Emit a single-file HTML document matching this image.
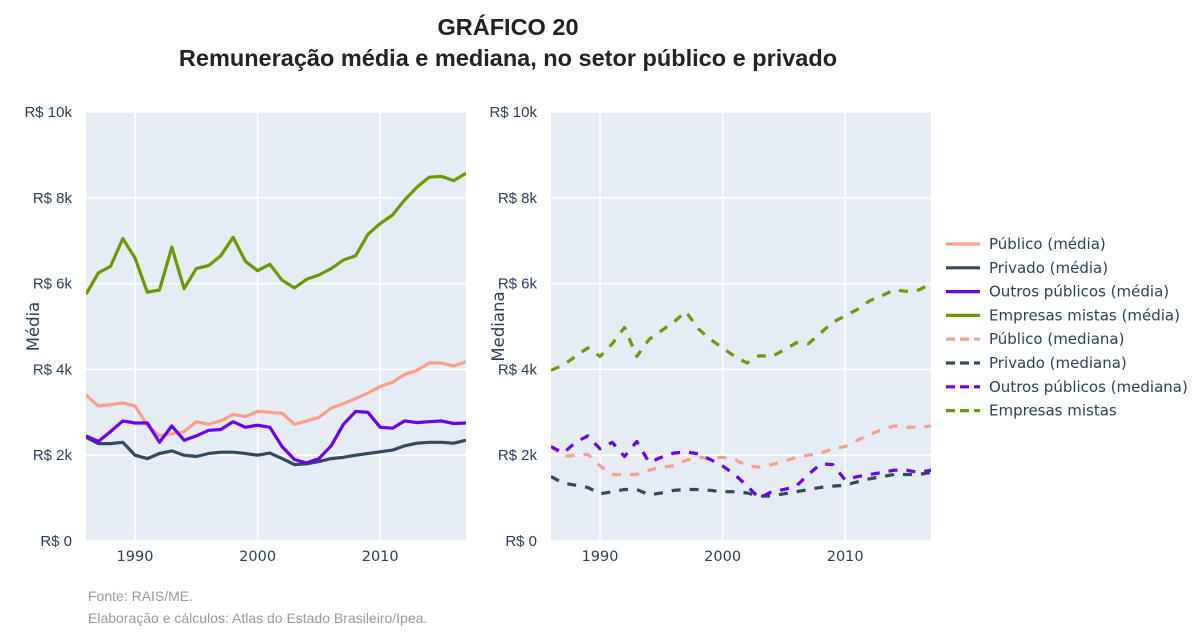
<!DOCTYPE html>
<html><head><meta charset="utf-8"><style>
body{margin:0;background:#fff;font-family:"Liberation Sans",sans-serif}
svg text{font-family:"DejaVu Sans",sans-serif}
svg text.lib{font-family:"Liberation Sans",sans-serif}
</style></head><body>
<svg id="c" width="1200" height="638" xmlns="http://www.w3.org/2000/svg">
<text class="lib" x="508" y="35" text-anchor="middle" font-size="23.5" font-weight="bold" fill="#222">GRÁFICO 20</text>
<text class="lib" x="508" y="66" text-anchor="middle" font-size="23.5" font-weight="bold" fill="#222">Remuneração média e mediana, no setor público e privado</text>
<text class="lib" x="88" y="601" font-size="14" fill="#999">Fonte: RAIS/ME.</text>
<text class="lib" x="88" y="623" font-size="14" fill="#999">Elaboração e cálculos: Atlas do Estado Brasileiro/Ipea.</text>
<g id="p1"></g><g id="p2"></g><g id="leg"></g>
</svg>
<script>
const years=[];for(let y=1986;y<=2017;y++)years.push(y);
const yTicks=[0,2000,4000,6000,8000,10000];
const yTickLabels=["R$ 0","R$ 2k","R$ 4k","R$ 6k","R$ 8k","R$ 10k"];
const xTicks=[1990,2000,2010];
const publicoMedia=[3.4,3.15,3.18,3.22,3.15,2.7,2.45,2.5,2.55,2.78,2.72,2.8,2.95,2.9,3.02,3.0,2.98,2.72,2.8,2.88,3.1,3.2,3.32,3.45,3.6,3.7,3.88,3.98,4.15,4.15,4.08,4.18];
const privadoMedia=[2.42,2.27,2.27,2.3,2.0,1.92,2.04,2.1,2.0,1.97,2.04,2.07,2.07,2.04,2.0,2.05,1.92,1.78,1.8,1.85,1.92,1.95,2.0,2.04,2.08,2.12,2.22,2.28,2.3,2.3,2.28,2.35];
const outrosMedia=[2.45,2.32,2.55,2.8,2.75,2.75,2.3,2.68,2.35,2.45,2.58,2.6,2.78,2.65,2.7,2.65,2.2,1.9,1.82,1.92,2.22,2.72,3.02,3.0,2.65,2.63,2.8,2.76,2.78,2.8,2.74,2.75];
const mistasMedia=[5.75,6.25,6.4,7.05,6.6,5.8,5.85,6.85,5.88,6.35,6.42,6.65,7.08,6.52,6.3,6.45,6.08,5.9,6.1,6.2,6.35,6.55,6.65,7.15,7.4,7.6,7.95,8.25,8.48,8.5,8.4,8.57];
const publicoMediana=[2.2,1.97,2.0,2.02,1.75,1.55,1.55,1.55,1.65,1.72,1.75,1.88,1.95,1.93,1.95,1.9,1.75,1.72,1.78,1.85,1.95,2.0,2.05,2.15,2.2,2.35,2.48,2.6,2.68,2.65,2.65,2.68];
const privadoMediana=[1.5,1.35,1.3,1.25,1.1,1.15,1.2,1.2,1.08,1.12,1.18,1.2,1.2,1.18,1.15,1.15,1.12,1.05,1.05,1.1,1.15,1.2,1.25,1.28,1.3,1.38,1.45,1.5,1.55,1.55,1.55,1.6];
const outrosMediana=[2.2,2.05,2.3,2.45,2.15,2.3,1.97,2.32,1.83,1.95,2.05,2.08,2.03,1.9,1.75,1.55,1.28,1.0,1.15,1.2,1.28,1.55,1.8,1.78,1.42,1.5,1.55,1.6,1.65,1.65,1.6,1.65];
const mistasMediana=[3.98,4.1,4.3,4.5,4.3,4.6,4.98,4.3,4.7,4.9,5.1,5.35,4.95,4.7,4.5,4.3,4.15,4.32,4.3,4.45,4.62,4.6,4.85,5.1,5.25,5.4,5.6,5.72,5.85,5.82,5.85,6.0];
const NS="http://www.w3.org/2000/svg";
function mk(t,a,p){const e=document.createElementNS(NS,t);for(const k in a)e.setAttribute(k,a[k]);p.appendChild(e);return e;}
const colors={pub:"#fba084",priv:"#34495e",out:"#6a00f4",mis:"#6b9a00"};
function panel(g,x0,title,series){
  const x1=x0+380,yTop=112,yBot=541;
  const xs=v=>x0+(v-1986)*(x1-x0)/31, ys=v=>yBot-v*(yBot-yTop)/10000;
  const bg=mk("rect",{x:x0,y:yTop,width:x1-x0,height:yBot-yTop,fill:"#e5ecf6"},g);
  
  
  yTicks.forEach((t,i)=>{
    mk("line",{x1:x0,x2:x1,y1:ys(t),y2:ys(t),stroke:"#fff","stroke-width":1.5},g);
    const tx=mk("text",{x:x0-14,y:ys(t)+5,"text-anchor":"end","font-size":15,fill:"#2a3f5f","class":"lib"},g);
    tx.textContent=yTickLabels[i];
    
    
  });
  xTicks.forEach(t=>{
    mk("line",{x1:xs(t),x2:xs(t),y1:yTop,y2:yBot,stroke:"#fff","stroke-width":1.5},g);
    const tx=mk("text",{x:xs(t),y:yBot+20,"text-anchor":"middle","font-size":14.5,fill:"#2a3f5f"},g);
    tx.textContent=t;
    
    
  });
  const yt=mk("text",{transform:`translate(${x0-47},${(yTop+yBot)/2}) rotate(-90)`,"text-anchor":"middle","font-size":16.5,fill:"#2a3f5f"},g);
  yt.textContent=title;
  
  
  const clip=mk("clipPath",{id:"cl"+x0},g);mk("rect",{x:x0,y:yTop,width:x1-x0,height:yBot-yTop},clip);
  series.forEach(s=>{
    const d=s.data.map((v,i)=>(i?"L":"M")+xs(years[i]).toFixed(1)+","+ys(v*1000).toFixed(1)).join("");
    const p=mk("path",{d,fill:"none",stroke:s.c,"stroke-width":3.2,"stroke-linejoin":"round","clip-path":`url(#cl${x0})`},g);
    if(s.dash)p.setAttribute("stroke-dasharray","9,9");
    
    
  });
}
panel(document.getElementById("p1"),86,"Média",[
 {data:publicoMedia,c:colors.pub,name:"line-publico-media"},
 {data:privadoMedia,c:colors.priv,name:"line-privado-media"},
 {data:outrosMedia,c:colors.out,name:"line-outros-media"},
 {data:mistasMedia,c:colors.mis,name:"line-mistas-media"}]);
panel(document.getElementById("p2"),551,"Mediana",[
 {data:publicoMediana,c:colors.pub,dash:1,name:"line-publico-mediana"},
 {data:privadoMediana,c:colors.priv,dash:1,name:"line-privado-mediana"},
 {data:outrosMediana,c:colors.out,dash:1,name:"line-outros-mediana"},
 {data:mistasMediana,c:colors.mis,dash:1,name:"line-mistas-mediana"}]);
const legLabels=["Público (média)","Privado (média)","Outros públicos (média)","Empresas mistas (média)","Público (mediana)","Privado (mediana)","Outros públicos (mediana)","Empresas mistas"];
const legColors=[colors.pub,colors.priv,colors.out,colors.mis,colors.pub,colors.priv,colors.out,colors.mis];
const lg=document.getElementById("leg");
legLabels.forEach((l,i)=>{
  const y=244+i*23.8;
  const g=mk("g",{},lg);
  
  
  const ln=mk("line",{x1:946,x2:980,y1:y,y2:y,stroke:legColors[i],"stroke-width":3.2},g);
  if(i>=4)ln.setAttribute("stroke-dasharray","9,5");
  const t=mk("text",{x:989,y:y+5,"font-size":15,fill:"#2a3f5f"},g);t.textContent=l;
});
</script>
</body></html>
